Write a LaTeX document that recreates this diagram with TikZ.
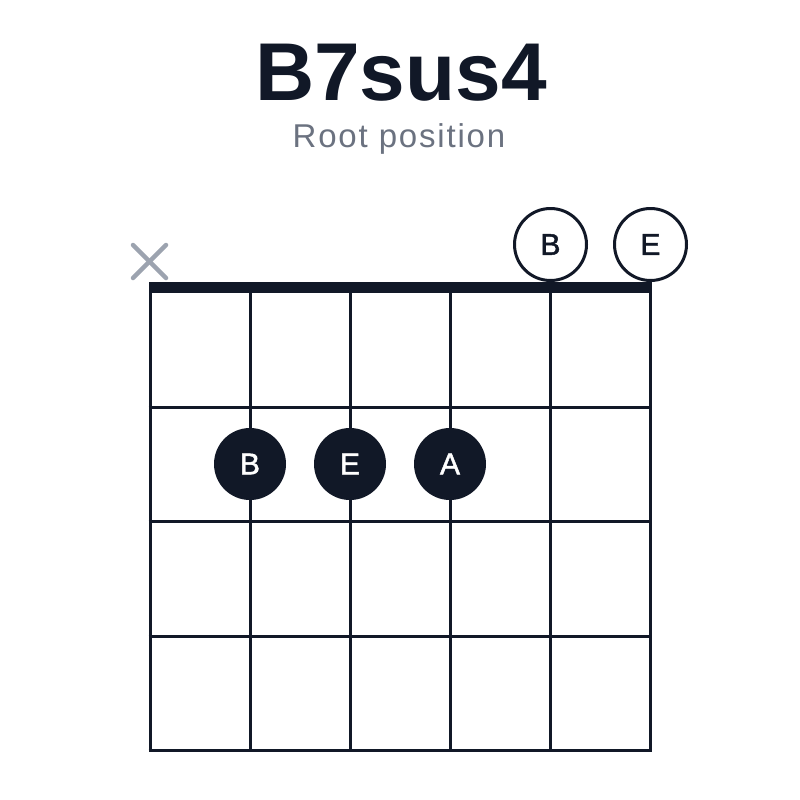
\documentclass[tikz,border=0pt]{standalone}
\usepackage{fontspec}
\setmainfont{Liberation Sans}
\newfontfamily\dotfont[FakeBold=1.5]{Liberation Sans}
\definecolor{ink}{HTML}{111827}
\definecolor{sub}{HTML}{6B7280}
\definecolor{mute}{HTML}{9CA3AF}
\begin{document}
\begin{tikzpicture}[x=1pt,y=-1pt,
  gridline/.style={draw=ink,line width=3pt},
  fretdot/.style={circle,fill=ink,minimum size=72pt,inner sep=0pt,text=white,font=\dotfont\fontsize{30}{30}\selectfont},
  opendot/.style={circle,draw=ink,line width=3pt,fill=white,minimum size=72pt,inner sep=0pt,text=ink,font=\dotfont\fontsize{30}{30}\selectfont},
  mutemark/.style={draw=mute,line width=4.5pt,line cap=round}]
\useasboundingbox (0,0) rectangle (800,800);
\fill[white] (0,0) rectangle (800,800);
\node[font=\bfseries\fontsize{82}{82}\selectfont,text=ink,anchor=base] (title) at (401,100) {B7sus4};
\node[font=\fontsize{33}{33}\selectfont\addfontfeature{LetterSpace=5.5},text=sub,anchor=base] (subtitle) at (399,147) {Root position};
% strings
\foreach \i in {0,...,5} {
  \draw[gridline] (150+100*\i,287) -- (150+100*\i,751.5);
}
% frets
\foreach \y in {407,521.5,636,750} {
  \draw[gridline] (148.5,\y) -- (651.5,\y);
}
% nut
\fill[ink] (148.5,282) rectangle (651.5,293);
% mute
\coordinate (m1) at (133,245);
\coordinate (m2) at (166,278);
\coordinate (m3) at (133,278);
\coordinate (m4) at (166,245);
\draw[mutemark] (m1) -- (m2);
\draw[mutemark] (m3) -- (m4);
% open strings
\node[opendot] (o5) at (550.5,244.5) {B};
\node[opendot] (o6) at (650.5,244.5) {E};
% fretted
\node[fretdot] (f2) at (250,464) {B};
\node[fretdot] (f3) at (350,464) {E};
\node[fretdot] (f4) at (450,464) {A};
\end{tikzpicture}
\end{document}
